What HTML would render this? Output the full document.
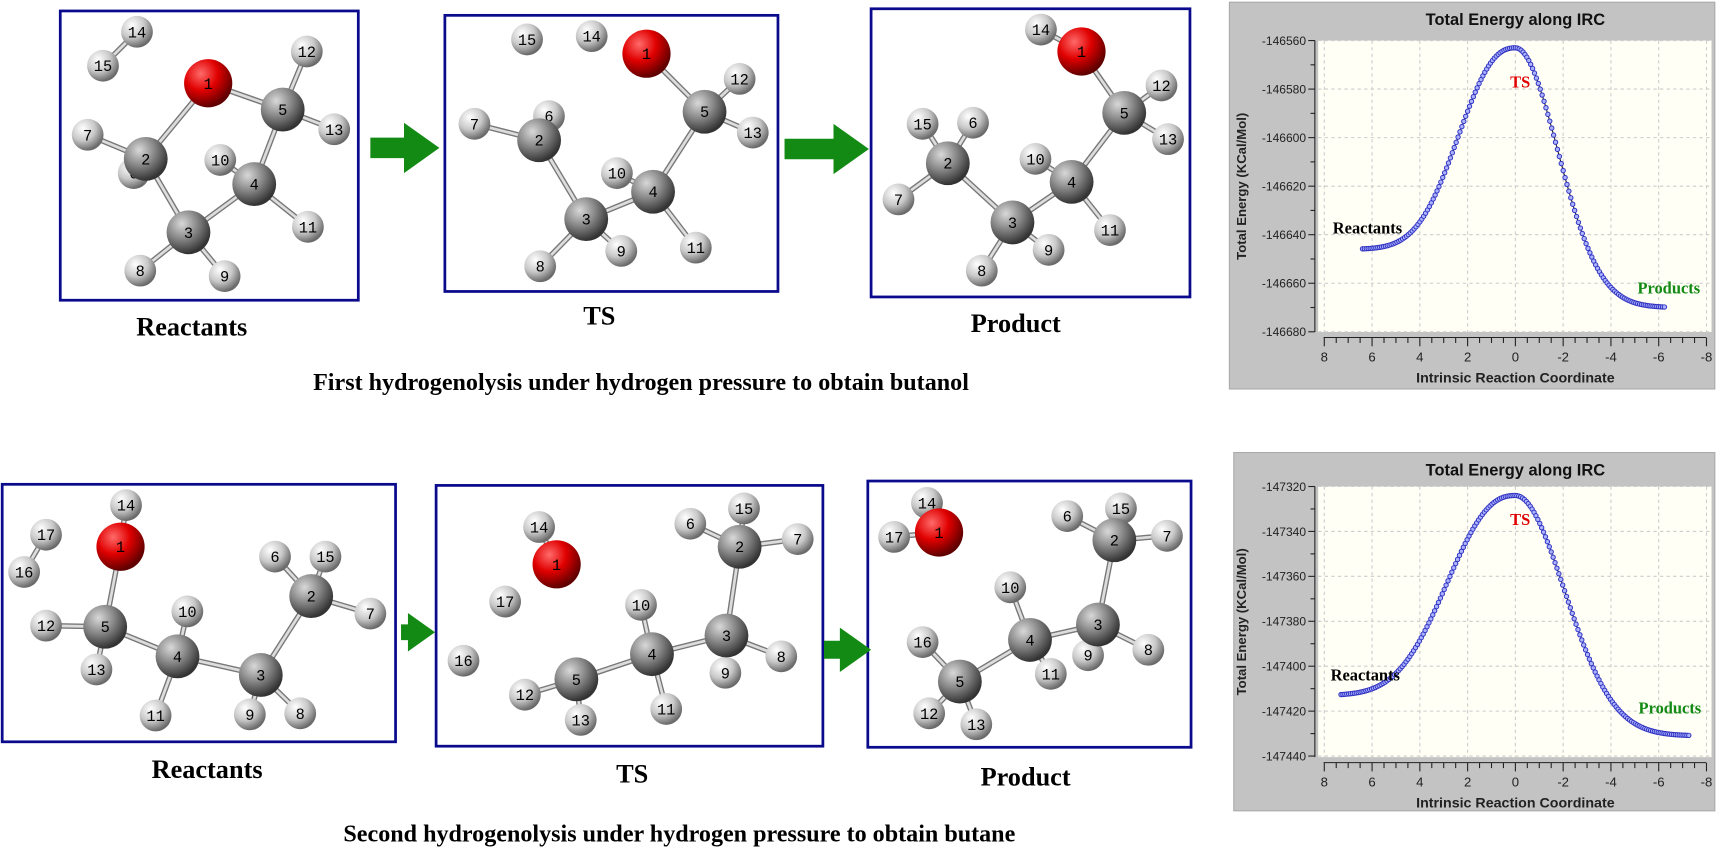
<!DOCTYPE html>
<html><head><meta charset="utf-8"><style>
html,body{margin:0;padding:0;background:#fff;width:1717px;height:847px;overflow:hidden}
svg{display:block}
</style></head><body>
<svg id="s" xmlns="http://www.w3.org/2000/svg" width="1717" height="847" viewBox="0 0 1567 773">
<defs>
<radialGradient id="gC" cx="35%" cy="30%" r="70%"><stop offset="0" stop-color="#d8d8d8"/><stop offset="0.5" stop-color="#888"/><stop offset="1" stop-color="#333"/></radialGradient>
<radialGradient id="gH" cx="35%" cy="30%" r="70%"><stop offset="0" stop-color="#ffffff"/><stop offset="0.55" stop-color="#c8c8c8"/><stop offset="1" stop-color="#6a6a6a"/></radialGradient>
<radialGradient id="gO" cx="35%" cy="30%" r="70%"><stop offset="0" stop-color="#ff6a6a"/><stop offset="0.5" stop-color="#e00000"/><stop offset="1" stop-color="#600000"/></radialGradient>
</defs>
<g id="main"></g>
</svg>
<script>
var NS="http://www.w3.org/2000/svg",M=document.getElementById("main");
function el(t,a,txt,p){var e=document.createElementNS(NS,t);for(var k in a)e.setAttribute(k,a[k]);if(txt!=null)e.textContent=txt;(p||M).appendChild(e);return e;}
function box(x1,y1,x2,y2){el("rect",{x:x1,y:y1,width:x2-x1,height:y2-y1,fill:"none",stroke:"#0a0a8c","stroke-width":2.5});}
function arrow(x1,y,x2,h){var t=h*0.55,hw=h*1.35,hl=h*0.95;el("polygon",{points:[x1,y-t/2,x2-hl,y-t/2,x2-hl,y-hw/2,x2,y,x2-hl,y+hw/2,x2-hl,y+t/2,x1,y+t/2].join(","),fill:"#138a13"});}
function label(x,y,t,sz){el("text",{x:x,y:y,"text-anchor":"middle","font-family":"Liberation Serif, serif","font-weight":"bold","font-size":sz},t);}
function mol(atoms,bonds){
 bonds.forEach(function(b){var a=atoms[b[0]],c=atoms[b[1]];
  el("line",{x1:a[1],y1:a[2],x2:c[1],y2:c[2],stroke:"#777","stroke-width":5});
  el("line",{x1:a[1],y1:a[2],x2:c[1],y2:c[2],stroke:"#ddd","stroke-width":2.5});});
 var keys=Object.keys(atoms);
 var ord=["H","C","O"];
 ord.forEach(function(tp){keys.forEach(function(k){var a=atoms[k];if(a[0]!=tp)return;
  var r=tp=="H"?14.5:(tp=="C"?20:22);
  el("circle",{cx:a[1],cy:a[2],r:r,fill:"url(#g"+tp+")"});
  el("text",{x:a[1],y:a[2]+5,"text-anchor":"middle","font-family":"Liberation Mono, monospace","font-size":14,fill:"#000"},k.replace(/[a-z]/g,""));});});
}
// Panel 1
box(55,10,327,274);box(406,14,710,266);box(795,8,1086,271);
arrow(338,135,401,34);arrow(716,136,793,34);
label(175,306,"Reactants",24);label(547,296,"TS",24);label(927,303,"Product",24);
label(585,356,"First hydrogenolysis under hydrogen pressure to obtain butanol",22);
mol({1:["O",190,76],5:["C",258,100],12:["H",280,47],13:["H",305,118],7:["H",80,123],14:["H",125,29],15:["H",94,60],2:["C",133,145],6:["H",122,158],10:["H",201,146],4:["C",232,168],11:["H",281,207],3:["C",172,212],8:["H",128,247],9:["H",205,252]},
[[1,5],[1,2],[5,12],[5,13],[5,4],[2,7],[2,3],[3,4],[4,10],[4,11],[3,8],[3,9],[14,15]]);
mol({1:["O",590,49],15:["H",481,36],14:["H",540,33],5:["C",643,102],12:["H",675,72],13:["H",687,121],7:["H",433,113],6:["H",501,106],2:["C",492,128],10:["H",563,158],4:["C",596,175],3:["C",535,200],9:["H",567,229],8:["H",493,243],11:["H",635,226]},
[[1,5],[5,12],[5,13],[5,4],[2,7],[2,6],[2,3],[3,4],[4,10],[4,11],[3,8],[3,9]]);
mol({14:["H",950,27],1:["O",987,47],5:["C",1026,103],12:["H",1060,78],13:["H",1066,127],15:["H",842,113],6:["H",888,112],2:["C",865,149],7:["H",820,182],10:["H",945,145],4:["C",978,166],3:["C",924,203],9:["H",957,228],8:["H",896,247],11:["H",1013,210]},
[[14,1],[1,5],[5,12],[5,13],[5,4],[2,15],[2,6],[2,7],[2,3],[3,4],[4,10],[4,11],[3,8],[3,9]]);
// Panel 2
box(2,442,361,677);box(398,443,751,681);box(792,439,1087,682);
arrow(366,577,397,26);arrow(752,593,795,30);
label(189,710,"Reactants",24);label(577,714,"TS",24);label(936,717,"Product",24);
label(620,768,"Second hydrogenolysis under hydrogen pressure to obtain butane",22);
mol({14:["H",115,461],1:["O",110,499],17:["H",42,488],16:["H",22,522],12:["H",42,571],13:["H",88,611],5:["C",96,572],10:["H",171,558],11:["H",142,653],4:["C",162,599],9:["H",228,652],8:["H",274,651],3:["C",238,616],6:["H",251,508],15:["H",297,508],7:["H",338,560],2:["C",284,544]},
[[14,1],[1,5],[17,16],[5,12],[5,13],[5,4],[4,10],[4,11],[4,3],[3,9],[3,8],[3,2],[2,6],[2,15],[2,7]]);
mol({14:["H",492,481],1:["O",508,515],17:["H",461,549],16:["H",423,603],6:["H",630,478],15:["H",679,464],7:["H",728,492],2:["C",675,499],10:["H",585,552],8:["H",713,599],9:["H",662,614],3:["C",663,580],11:["H",608,647],4:["C",595,597],12:["H",479,634],13:["H",530,657],5:["C",526,620]},
[[14,1],[2,6],[2,15],[2,7],[2,3],[3,4],[3,8],[3,9],[4,10],[4,11],[4,5],[5,12],[5,13]]);
mol({14:["H",846,459],17:["H",816,490],1:["O",857,486],6:["H",974,471],15:["H",1023,464],7:["H",1065,489],2:["C",1017,493],10:["H",922,536],8:["H",1048,593],9:["H",993,598],3:["C",1002,570],11:["H",959,615],4:["C",940,584],16:["H",842,586],12:["H",848,651],13:["H",891,661],5:["C",876,622]},
[[14,1],[17,1],[2,6],[2,15],[2,7],[2,3],[3,4],[3,8],[3,9],[4,10],[4,11],[4,5],[5,16],[5,12],[5,13]]);
// Charts
function chart(o){
 el("rect",{x:o.bx1,y:o.by1,width:o.bx2-o.bx1,height:o.by2-o.by1,fill:"#c3c3c3",stroke:"#aaa"});
 el("text",{x:1383,y:o.by1+21,"text-anchor":"middle","font-family":"Liberation Sans, sans-serif","font-weight":"bold","font-size":15,fill:"#111"},"Total Energy along IRC");
 el("rect",{x:1203,y:o.py1,width:359,height:o.py2-o.py1,fill:"#fffff6"});
 var X=function(v){return 1383-v*21.8;},Y=function(E){return o.py1+(o.E0-E)*o.k;};
 for(var v=8;v>=-8;v-=2){el("line",{x1:X(v),y1:o.py1,x2:X(v),y2:o.py2,stroke:"#ccc","stroke-dasharray":"3,3"});}
 for(var i=0;i<=6;i++){var E=o.E0-20*i,y=Y(E);
  el("line",{x1:1203,y1:y,x2:1562,y2:y,stroke:"#ccc","stroke-dasharray":"3,3"});
  el("line",{x1:1194,y1:y,x2:1200,y2:y,stroke:"#222"});
  if(i<6)el("line",{x1:1196,y1:y+10*o.k,x2:1200,y2:y+10*o.k,stroke:"#222"});
  el("text",{x:1192,y:y+4,"text-anchor":"end","font-family":"Liberation Sans, sans-serif","font-size":11,fill:"#222"},String(E));}
 el("line",{x1:1200,y1:o.py1,x2:1200,y2:o.py2,stroke:"#222"});
 var ay=o.py2+5;el("line",{x1:1208,y1:ay,x2:1557,y2:ay,stroke:"#222"});
 for(var v=8;v>=-8;v-=0.5){el("line",{x1:X(v),y1:ay,x2:X(v),y2:ay+(v%2==0?8:5),stroke:"#222"});}
 for(var v=8;v>=-8;v-=2){el("text",{x:X(v),y:ay+22,"text-anchor":"middle","font-family":"Liberation Sans, sans-serif","font-size":12,fill:"#222"},String(v));}
 el("text",{x:1383,y:ay+41,"text-anchor":"middle","font-family":"Liberation Sans, sans-serif","font-weight":"bold","font-size":13,fill:"#222"},"Intrinsic Reaction Coordinate");
 var cy=(o.py1+o.py2)/2;
 el("text",{x:1137,y:cy,"text-anchor":"middle",transform:"rotate(-90 1137 "+cy+")","font-family":"Liberation Sans, sans-serif","font-weight":"bold","font-size":12,fill:"#222"},"Total Energy (KCal/Mol)");
 var pts=[];
 for(var v=o.v1;v>=o.v2-0.001;v-=0.08){var E=v>0?o.Ep+(o.ER-o.Ep)*(1-Math.exp(-Math.pow(v/o.sL,2.4))):o.Ep+(o.EP-o.Ep)*(1-Math.exp(-Math.pow(-v/o.sR,2)));
  pts.push([X(v),Y(E)]);}
 el("polyline",{points:pts.map(function(p){return p[0].toFixed(1)+","+p[1].toFixed(1)}).join(" "),fill:"none",stroke:"#222","stroke-width":1});
 pts.forEach(function(p){el("circle",{cx:p[0],cy:p[1],r:2,fill:"#aab4ff",stroke:"#3030c0","stroke-width":0.9});});
 el("text",{x:o.rl[0],y:o.rl[1],"text-anchor":"middle","font-family":"Liberation Serif, serif","font-weight":"bold","font-size":15,fill:"#000"},"Reactants");
 el("text",{x:X(-0.2),y:o.ts,"text-anchor":"middle","font-family":"Liberation Serif, serif","font-weight":"bold","font-size":15,fill:"#e00000"},"TS");
 el("text",{x:o.pl[0],y:o.pl[1],"text-anchor":"middle","font-family":"Liberation Serif, serif","font-weight":"bold","font-size":15,fill:"#138a13"},"Products");
}
chart({bx1:1122,by1:2,bx2:1565,by2:355,py1:37,py2:303,E0:-146560,k:2.215,Ep:-146563,ER:-146646,EP:-146670,sL:3,sR:2.5,v1:6.4,v2:-6.3,rl:[1248,213],ts:80,pl:[1523,268]});
chart({bx1:1126,by1:413,bx2:1565,by2:740,py1:444,py2:691,E0:-147320,k:2.05,Ep:-147324,ER:-147413,EP:-147431,sL:3.6,sR:2.9,v1:7.3,v2:-7.3,rl:[1246,621],ts:479,pl:[1524,651]});
</script>
</body></html>
